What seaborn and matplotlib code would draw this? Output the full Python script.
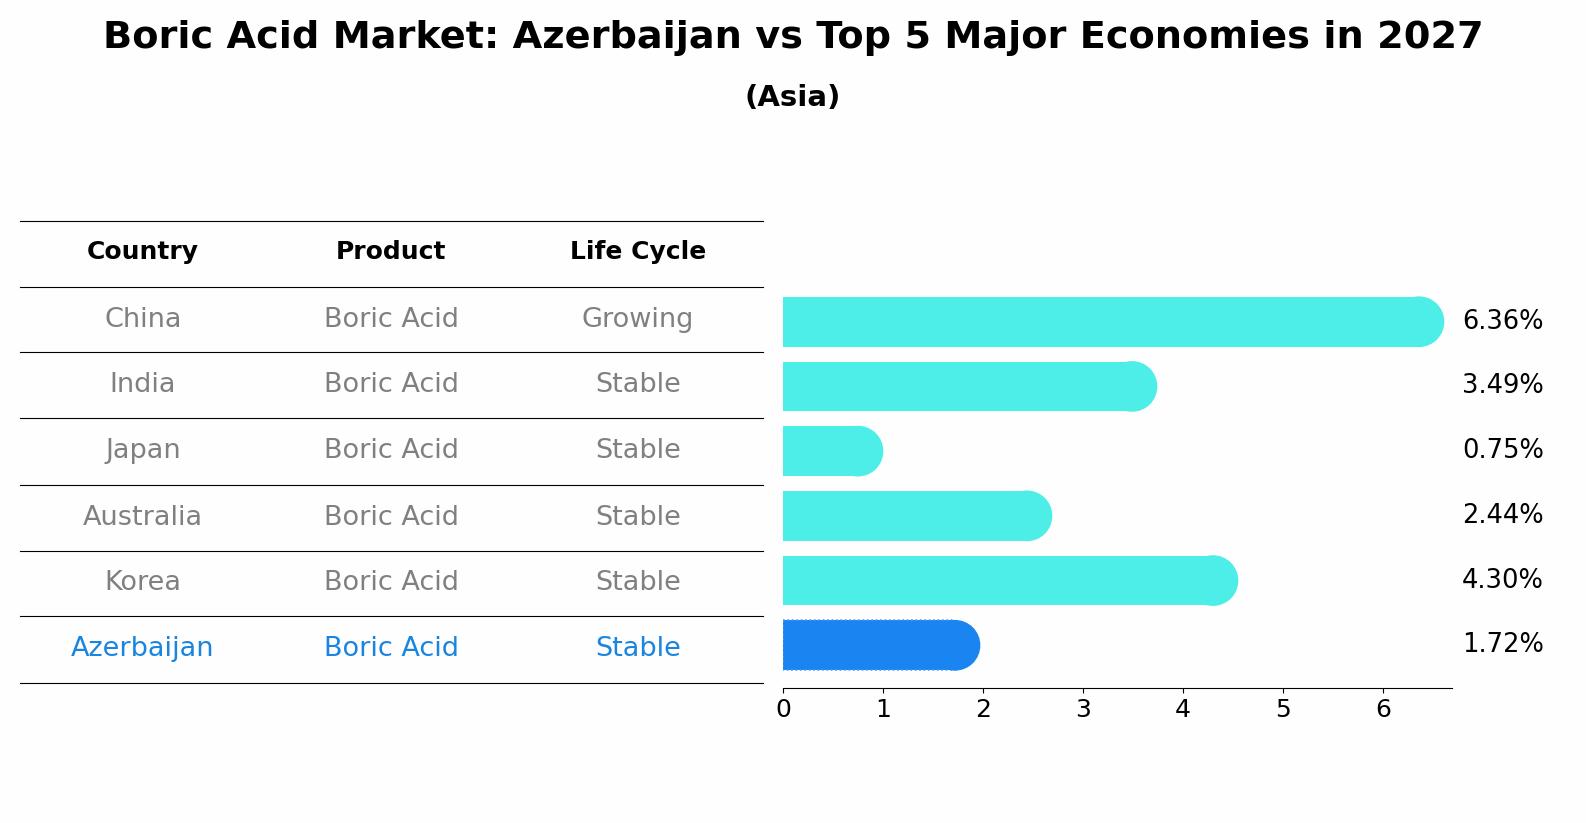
import matplotlib
matplotlib.use("Agg")
import matplotlib.pyplot as plt
import seaborn as sns
import pandas as pd
from matplotlib.lines import Line2D

countries = ["China", "India", "Japan", "Australia", "Korea", "Azerbaijan"]
products = ["Boric Acid"] * 6
life_cycle = ["Growing", "Stable", "Stable", "Stable", "Stable", "Stable"]
growth = [6.36, 3.49, 0.75, 2.44, 4.30, 1.72]
highlight = "Azerbaijan"

W, H = 1586, 823
fig = plt.figure(figsize=(W / 100, H / 100), dpi=100)
fig.patch.set_facecolor("#fefefe")

def fx(px): return px / W
def fy(py): return 1 - py / H

fig.text(0.5, fy(38), "Boric Acid Market: Azerbaijan vs Top 5 Major Economies in 2027",
         ha="center", va="center", fontsize=27.5, fontweight="bold")
fig.text(0.5, fy(98), "(Asia)", ha="center", va="center", fontsize=21, fontweight="bold")

ax = fig.add_axes([fx(783), fy(688), fx(1452) - fx(783), fy(279) - fy(688)])
df = pd.DataFrame({"country": countries, "growth": growth})
cols = ["#1a85f0" if c == highlight else "#4eeee8" for c in countries]
sns.barplot(data=df, x="growth", y="country", hue="country", palette=cols,
            legend=False, width=0.77, ax=ax, saturation=1, orient="h")
for p, c in zip(ax.patches, countries):
    if c == highlight:
        p.set_edgecolor("#4a9af0"); p.set_linestyle(":"); p.set_linewidth(1.2)
ax.scatter(growth, range(len(growth)), s=36.5 ** 2, c=cols, zorder=3, linewidths=0)
ax.set_xlim(0, 6.69)
ax.set_ylim(5.66, -0.66)
ax.set_yticks([])
ax.set_xlabel(""); ax.set_ylabel("")
ax.set_xticks(range(7))
ax.tick_params(axis="x", labelsize=18)
for s in ["top", "right", "left"]:
    ax.spines[s].set_visible(False)
ax.set_facecolor("none")
for i, v in enumerate(growth):
    ax.text(6.79, i, f"{v:.2f}%", va="center", ha="left", fontsize=18.5)

# table
lines_y = [221, 287, 352, 418, 485, 551, 616, 683]
for y in lines_y:
    fig.add_artist(Line2D([fx(20), fx(763)], [fy(y), fy(y)], color="black", lw=0.8))
col_x = [143, 391, 638]
for x, h in zip(col_x, ["Country", "Product", "Life Cycle"]):
    fig.text(fx(x), fy(252), h, ha="center", va="center", fontsize=18, fontweight="bold")
for i, (c, p, l) in enumerate(zip(countries, products, life_cycle)):
    yc = (lines_y[i + 1] + lines_y[i + 2]) / 2
    color = "#1a85e0" if c == highlight else "#808080"
    for x, t in zip(col_x, [c, p, l]):
        fig.text(fx(x), fy(yc), t, ha="center", va="center", fontsize=19.5, color=color)

fig.savefig("out.png", dpi=100, facecolor=fig.get_facecolor())
